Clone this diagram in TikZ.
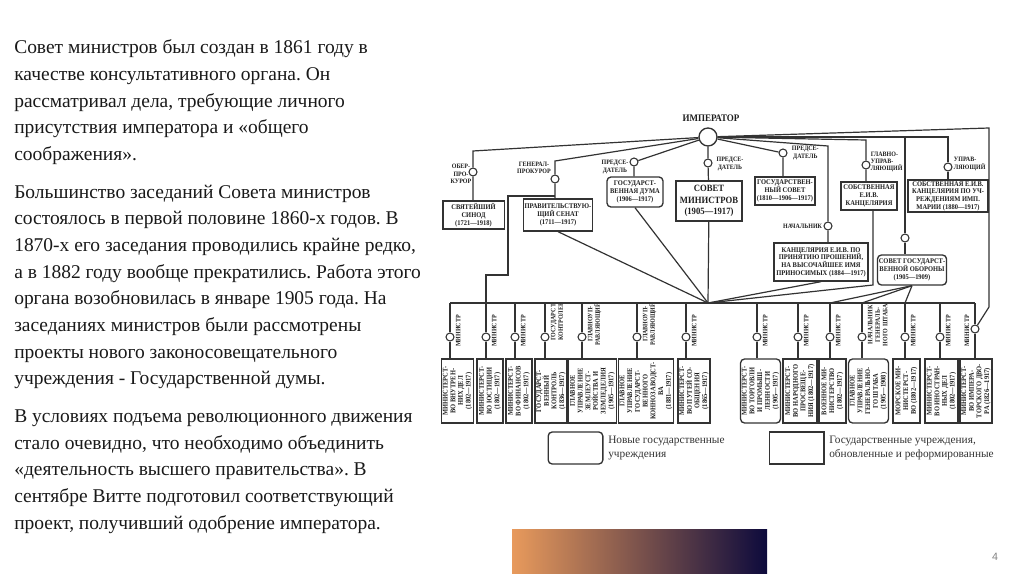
\documentclass[tikz,border=0pt]{standalone}
\usepackage{fontspec}
\setmainfont{Liberation Serif}
\newfontfamily\dgfont[FakeStretch=0.9]{Liberation Serif}
\newfontfamily\numfont{Liberation Sans}
\usepackage{tikz}
\usetikzlibrary{calc}
\definecolor{lngray}{HTML}{333333}
\definecolor{txgray}{HTML}{1E1E1E}
\definecolor{grorange}{HTML}{E89A5C}
\definecolor{grred}{HTML}{A33F52}
\definecolor{grnavy}{HTML}{0D0A3C}
\frenchspacing

\begin{document}
\begin{tikzpicture}[x=0.75pt,y=-0.75pt,
    ln/.style={draw=lngray,line width=0.9pt},
    box/.style={draw=lngray,line width=1pt,fill=white,inner sep=1pt,align=center,
      text=txgray,font=\dgfont\bfseries\fontsize{5.4}{5.8}\selectfont},
    rbox/.style={box,rounded corners=3pt},
    dot/.style={circle,draw=lngray,line width=0.8pt,fill=white,minimum size=6pt,inner sep=0pt},
    lbl/.style={inner sep=0.5pt,align=center,text=txgray,font=\dgfont\bfseries\fontsize{5}{5.6}\selectfont},
    para/.style={anchor=north west,inner sep=0pt,align=left,text=black!90,font=\fontsize{14.6}{20}\selectfont},
    legtxt/.style={anchor=west,inner sep=0pt,align=left,text=lngray,font=\fontsize{8.5}{11.2}\selectfont}]
  \useasboundingbox (0,0) rectangle (1024,574);

  % left column text
  \node[para] (p1) at (14,39.5) {Совет министров был создан в 1861 году в\\качестве консультативного органа. Он\\рассматривал дела, требующие личного\\присутствия императора и «общего\\соображения».};
  \node[para] (p2) at (14,184.5) {Большинство заседаний Совета министров\\состоялось в первой половине 1860-х годов. В\\1870-х его заседания проводились крайне редко,\\а в 1882 году вообще прекратились. Работа этого\\органа возобновилась в январе 1905 года. На\\заседаниях министров были рассмотрены\\проекты нового законосовещательного\\учреждения - Государственной думы.};
  \node[para] (p3) at (14,409.5) {В условиях подъема революционного движения\\стало очевидно, что необходимо объединить\\«деятельность высшего правительства». В\\сентябре Витте подготовил соответствующий\\проект, получивший одобрение императора.};

  % emperor
  \node[dot,minimum size=13.5pt,line width=1pt] (imp) at (708,137) {};
  \node[lbl,font=\dgfont\bfseries\fontsize{7.5}{8}\selectfont] (implbl) at (711,118) {ИМПЕРАТОР};

  % upper institutions
  \node[box,minimum width=46pt,minimum height=21pt] (sinod) at (473.5,215) {СВЯТЕЙШИЙ\\СИНОД\\(1721—1918)};
  \node[box,minimum width=51pt,minimum height=24pt] (senat) at (558,215) {ПРАВИТЕЛЬСТВУЮ-\\ЩИЙ СЕНАТ\\(1711—1917)};
  \node[rbox,minimum width=42pt,minimum height=22.5pt] (duma) at (635,192) {ГОСУДАРСТ-\\ВЕННАЯ ДУМА\\(1906—1917)};
  \node[box,font=\dgfont\bfseries\fontsize{7.2}{8.6}\selectfont,minimum width=49.5pt,minimum height=30pt] (sovmin) at (709,201) {СОВЕТ\\МИНИСТРОВ\\(1905—1917)};
  \node[box,minimum width=45pt,minimum height=21pt] (gossov) at (785,191) {ГОСУДАРСТВЕН-\\НЫЙ СОВЕТ\\(1810—1906—1917)};
  \node[box,minimum width=70.5pt,minimum height=28.5pt] (kanc) at (821,262) {КАНЦЕЛЯРИЯ Е.И.В. ПО\\ПРИНЯТИЮ ПРОШЕНИЙ,\\НА ВЫСОЧАЙШЕЕ ИМЯ\\ПРИНОСИМЫХ (1884—1917)};
  \node[box,minimum width=42pt,minimum height=21pt] (sobkanc) at (869,196) {СОБСТВЕННАЯ\\Е.И.В.\\КАНЦЕЛЯРИЯ};
  \node[box,minimum width=60pt,minimum height=21pt] (marii) at (948,196) {СОБСТВЕННАЯ Е.И.В.\\КАНЦЕЛЯРИЯ ПО УЧ-\\РЕЖДЕНИЯМ ИМП.\\МАРИИ (1880—1917)};
  \node[rbox,minimum width=48pt,minimum height=22.5pt] (oborona) at (912,270) {СОВЕТ ГОСУДАРСТ-\\ВЕННОЙ ОБОРОНЫ\\(1905—1909)};

  % heads
  \node[dot] (oc) at (473,172) {};
  \node[dot] (gc) at (555,179) {};
  \node[dot] (dc) at (634,162) {};
  \node[dot] (sc) at (708,163) {};
  \node[dot] (gsc) at (783,153) {};
  \node[dot] (kc) at (828,226) {};
  \node[dot] (sbc) at (866,165) {};
  \node[dot] (mc) at (948,167) {};
  \node[dot] (oc2) at (905,238) {};

  \node[lbl] (oclbl) at (461,174) {ОБЕР-\\ПРО-\\КУРОР};
  \node[lbl] (gclbl) at (534,168) {ГЕНЕРАЛ-\\ПРОКУРОР};
  \node[lbl] (dclbl) at (615,167) {ПРЕДСЕ-\\ДАТЕЛЬ};
  \node[lbl] (sclbl) at (730,164) {ПРЕДСЕ-\\ДАТЕЛЬ};
  \node[lbl,anchor=west] (gsclbl) at (791,153) {ПРЕДСЕ-\\ДАТЕЛЬ};
  \node[lbl,anchor=east] (kclbl) at (823,226) {НАЧАЛЬНИК};
  \node[lbl,anchor=west,align=left] (sbclbl) at (870,162) {ГЛАВНО-\\УПРАВ-\\ЛЯЮЩИЙ};
  \node[lbl,anchor=west,align=left] (mclbl) at (953,164) {УПРАВ-\\ЛЯЮЩИЙ};

  \coordinate (ob) at (473,151);
  \coordinate (gb) at (555,161);
  \coordinate (gj) at (555,196);
  \coordinate (kb) at (828,146);
  \coordinate (sb) at (866,140);
  \coordinate (obb) at (905,137);
  \coordinate (mb) at (948,137);
  \coordinate (rb1) at (989,128);
  \coordinate (rb2) at (989,307);
  \coordinate (sk) at (873,285);
  \coordinate (smb) at (708,303);

  % ministries
  \foreach \n/\xl/\cy/\xb/\w/\rc/\tx in {
    1/450/337/457.5/23.25/0/{МИНИСТЕРСТ-\\ВО ВНУТРЕН-\\НИХ ДЕЛ\\(1802—1917)},
    2/486/337/490/19.5/0/{МИНИСТЕРСТ-\\ВО ЮСТИЦИИ\\(1802—1917)},
    3/515/337/519/19.5/0/{МИНИСТЕРСТ-\\ВО ФИНАНСОВ\\(1802—1917)},
    4/545/337/551/24/0/{ГОСУДАРСТ-\\ВЕННЫЙ\\КОНТРОЛЬ\\(1836—1917)},
    5/582/337/592.5/33.75/0/{ГЛАВНОЕ\\УПРАВЛЕНИЕ\\ЗЕМЛЕУСТ-\\РОЙСТВА И\\ЗЕМЛЕДЕЛИЯ\\(1905—1917)},
    6/637/337/646/40.5/0/{ГЛАВНОЕ\\УПРАВЛЕНИЕ\\ГОСУДАРСТ-\\ВЕННОГО\\КОННОЗАВОДСТ-\\ВА\\(1881—1917)},
    7/686/337/694/24/0/{МИНИСТЕРСТ-\\ВО ПУТЕЙ СО-\\ОБЩЕНИЯ\\(1865—1917)},
    8/757/337/760.5/29.25/3/{МИНИСТЕРСТ-\\ВО ТОРГОВЛИ\\И ПРОМЫШ-\\ЛЕННОСТИ\\(1905—1917)},
    9/798/337/800/25.5/0/{МИНИСТЕРСТ-\\ВО НАРОДНОГО\\ПРОСВЕЩЕ-\\НИЯ (1802—1917)},
    10/830/337/832.5/20.25/0/{ВОЕННОЕ МИ-\\НИСТЕРСТВО\\(1802—1917)},
    11/862/337/868.5/27.75/3/{ГЛАВНОЕ\\УПРАВЛЕНИЕ\\ГЕНЕРАЛЬНО-\\ГО ШТАБА\\(1905—1908)},
    12/905/337/906.5/20.25/0/{МОРСКОЕ МИ-\\НИСТЕРСТ-\\ВО (1802—1917)},
    13/940/337/941.5/24.75/0/{МИНИСТЕРСТ-\\ВО ИНОСТРАН-\\НЫХ ДЕЛ\\(1802—1917)},
    14/975/329/976/21/0/{МИНИСТЕРСТ-\\ВО ИМПЕРА-\\ТОРСКОГО ДВО-\\РА (1826—1917)}}{
    \node[box,rotate=90,rounded corners=\rc pt,minimum width=48pt,minimum height=\w pt] (m\n) at (\xb,391) {\tx};
    \node[dot] (c\n) at (\xl,\cy) {};
    \draw[ln] (\xl,303) -- (c\n) -- (c\n |- m\n.east);
  }
  \foreach \xl/\ly/\tx [count=\i] in {450/331/МИНИСТР, 486/331/МИНИСТР, 515/331/МИНИСТР,
      545/322/{ГОСУДАРСТ.\\КОНТРОЛЕР}, 582/324/{ГЛАВНОУП-\\РАВЛЯЮЩИЙ}, 637/324/{ГЛАВНОУП-\\РАВЛЯЮЩИЙ},
      686/331/МИНИСТР, 757/331/МИНИСТР, 798/331/МИНИСТР, 830/331/МИНИСТР,
      862/325/{НАЧАЛЬНИК\\ГЕНЕРАЛЬ-\\НОГО ШТАБА}, 905/331/МИНИСТР, 940/331/МИНИСТР}
    \node[lbl,rotate=90,anchor=north] (ml\i) at (\xl+5,\ly) {\tx};
  \node[lbl,rotate=90,anchor=south] (ml14) at (970,331) {МИНИСТР};

  % connectors
  \draw[ln] (imp) -- (ob) -- (oc) -- (oc |- sinod.north);
  \draw[ln] (imp) -- (gb) -- (gc) -- (gc |- senat.north);
  \draw[ln] (gj) -- (508,196) -- (508,275) -- (486,275) -- (c2 |- smb);
  \draw[ln] (imp) -- (dc) -- (dc |- duma.north);
  \draw[ln] (imp) -- (sc) -- (sovmin);
  \draw[ln] (imp) -- (gsc) -- (gsc |- gossov.north);
  \draw[ln] (imp) -- (kb) -- (kc) -- (kc |- kanc.north);
  \draw[ln] (imp) -- (sb) -- (sbc) -- (sbc |- sobkanc.north);
  \draw[ln] (imp) -- (obb) -- (oc2) -- (oc2 |- oborona.north);
  \draw[ln] (imp) -- (mb) -- (mc) -- (mc |- marii.north);
  \draw[ln] (imp) -- (rb1) -- (rb2) -- (c14);

  \draw[ln] (c1 |- smb) -- (c14 |- smb);
  \draw[ln] (senat.south) -- (smb);
  \draw[ln] (duma.south) -- (smb);
  \draw[ln] (sovmin) -- (smb);
  \draw[ln] (kanc.south) -- (smb);
  \draw[ln] (sobkanc.south -| sk) -- (sk) -- (smb);
  \draw[ln] (oborona.south) -- (c10 |- smb);
  \draw[ln] (oborona.south) -- (c11 |- smb);
  \draw[ln] (oborona.south) -- (c12 |- smb);

  % legend
  \node[rbox,minimum width=41pt,minimum height=24pt] (leg1) at (575.5,448) {};
  \node[legtxt] (leg1t) at (608,448) {Новые государственные\\учреждения};
  \node[box,minimum width=41pt,minimum height=24pt] (leg2) at (796.5,448) {};
  \node[legtxt] (leg2t) at (829,448) {Государственные учреждения,\\обновленные и реформированные};

  % footer
  \shade[left color=grorange,middle color=grred,right color=grnavy] (512,529) rectangle (767,574);
  \node[text=gray,font=\numfont\fontsize{8}{9}\selectfont] (pnum) at (995,557) {4};
\end{tikzpicture}
\end{document}
